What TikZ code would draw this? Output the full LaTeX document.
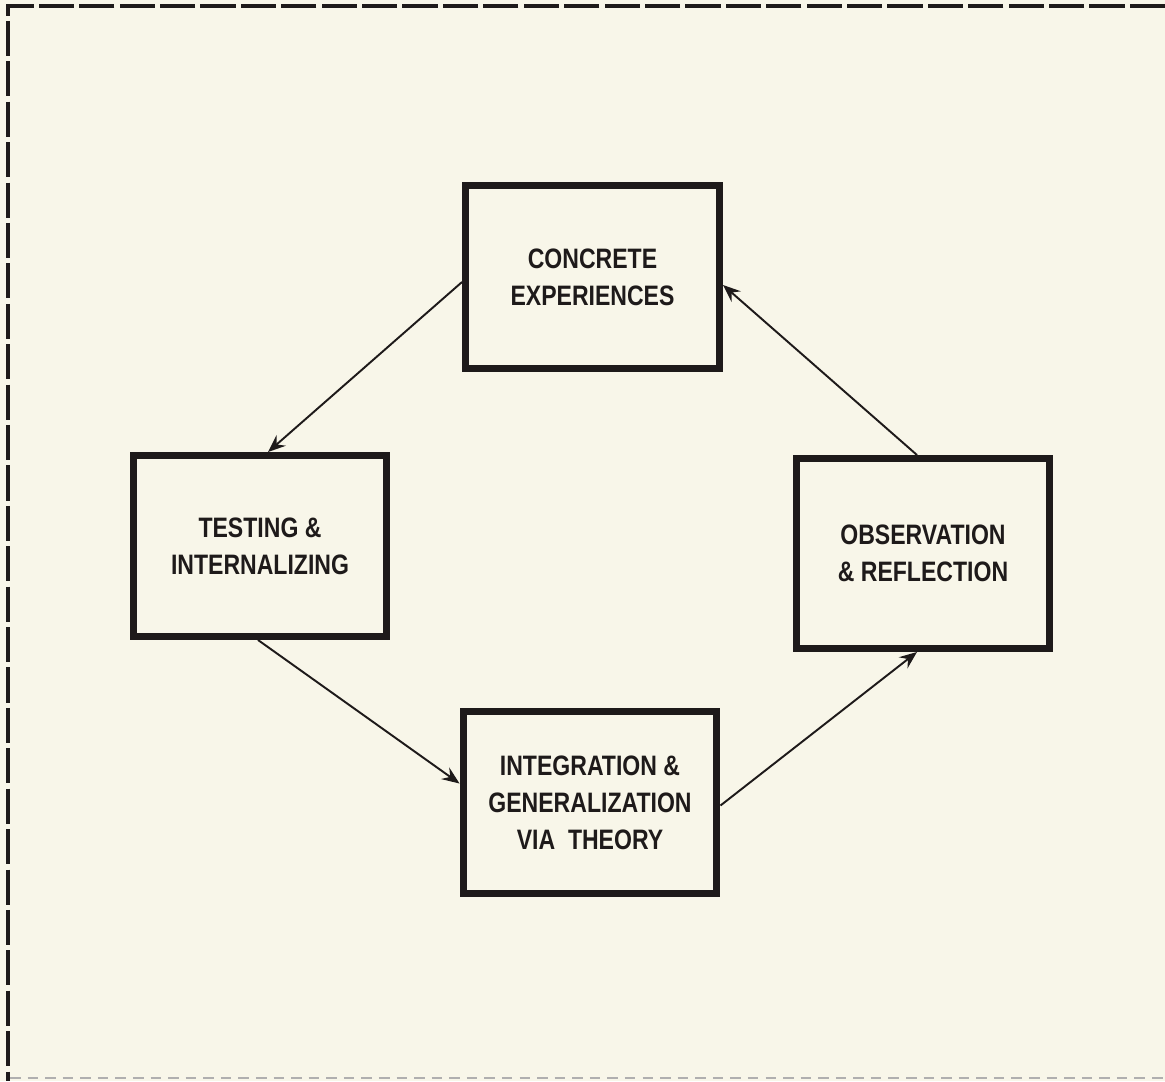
\documentclass[tikz,border=0pt]{standalone}
\usepackage{fontspec}
\newfontfamily\lblfont{Liberation Sans}[FakeStretch=0.82]
\usetikzlibrary{arrows.meta,calc}
\definecolor{paper}{HTML}{F8F6E9}
\definecolor{ink}{HTML}{1E1A1A}
\tikzset{
  stagebox/.style={draw=ink, line width=0.14cm, fill=paper, minimum width=5.08cm,
    minimum height=3.66cm, inner sep=0pt, align=center, text=ink,
    font=\lblfont\bfseries\fontsize{16}{21}\selectfont},
  flow/.style={draw=ink, line width=1.1pt, -{Stealth[length=10pt,width=8pt,inset=3.5pt]}},
  frame/.style={draw=ink, line width=2.4pt, dash pattern=on 20pt off 3pt}
}
\begin{document}
\begin{tikzpicture}[x=0.02cm,y=-0.02cm]
\fill[paper] (0,0) rectangle (1165,1081);
\useasboundingbox (0,0) rectangle (1165,1081);
% frame
\coordinate (tl) at (8,6);
\coordinate (tr) at (1165,6);
\coordinate (bl) at (8,1081);
\draw[frame] (tr) -- (tl) -- (bl);
\draw[draw=ink!35, line width=1pt, dash pattern=on 6pt off 4pt] (10,1078) -- (1165,1078);
% boxes
\node[stagebox] (ce) at (592.5,277) {CONCRETE\\EXPERIENCES};
\node[stagebox, minimum height=3.62cm] (ti) at (260,546) {TESTING \&\\INTERNALIZING};
\node[stagebox, minimum height=3.80cm] (or) at (923,553.5) {OBSERVATION\\\& REFLECTION};
\node[stagebox, minimum height=3.64cm] (ig) at (590,802.5) {INTEGRATION \&\\GENERALIZATION\\VIA\ \ THEORY};
% arrows
\draw[flow] ($(ce.west)+(0,5)$) -- ($(ti.north)+(8,0)$);
\draw[flow] ($(ti.south)+(-2,0)$) -- ($(ig.west)+(0,-19)$);
\draw[flow] ($(ig.east)+(0,3)$) -- ($(or.south)+(-6,0)$);
\draw[flow] ($(or.north)+(-6,0)$) -- ($(ce.east)+(0,8)$);
\end{tikzpicture}
\end{document}
